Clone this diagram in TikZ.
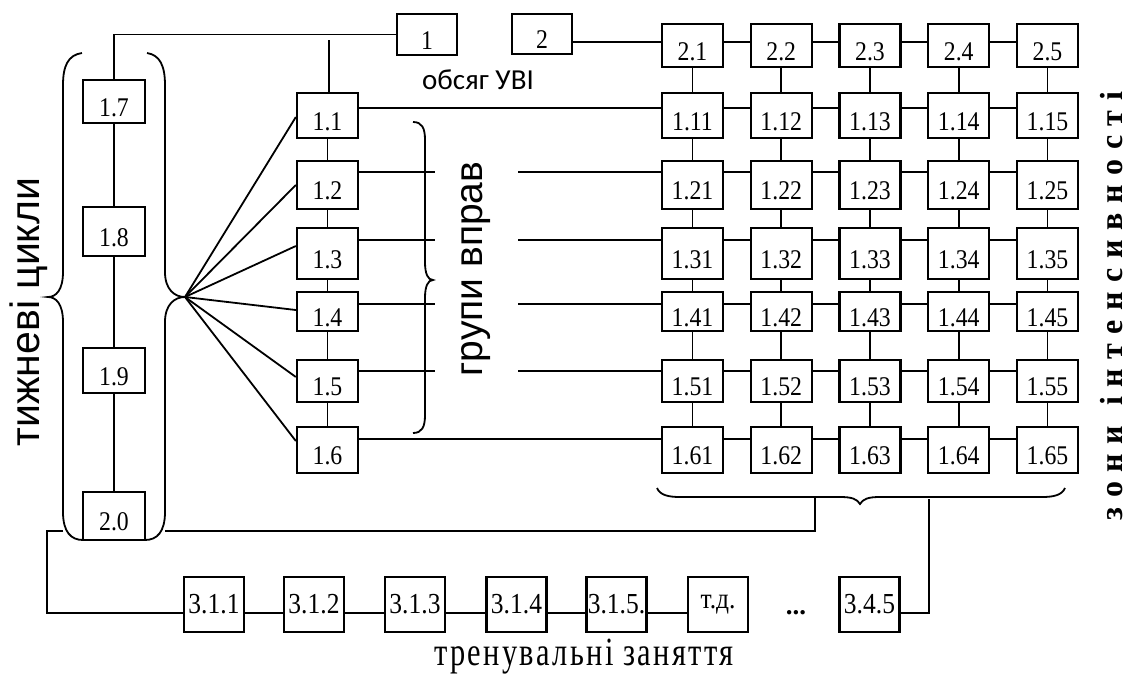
\documentclass[tikz,border=0pt]{standalone}
\usepackage{fontspec}
\setmainfont{Liberation Serif}
\newfontfamily\sansf{Liberation Sans}
\newfontfamily\calf{Carlito}
\newfontfamily\boxf[FakeStretch=0.88]{Liberation Serif}
\newfontfamily\zonef[LetterSpace=30]{Liberation Serif}
\newfontfamily\trainf[LetterSpace=6,FakeStretch=0.76]{Liberation Serif}
\begin{document}
\begin{tikzpicture}[x=1pt,y=-1pt,
  box/.style={draw, line width=2.3pt, inner sep=0pt, minimum width=61pt,
    font=\boxf\fontsize{27}{27}\selectfont, text height=29pt, text depth=0pt},
  sbox/.style={draw, line width=2.3pt, inner sep=0pt, minimum width=60pt,
    minimum height=55pt, font=\boxf\fontsize{29}{29}\selectfont},
  ln/.style={line width=1.8pt}]
\fill[white] (0,0) rectangle (1128,673);
\useasboundingbox (0,0) rectangle (1128,673);

% top boxes
\node[box, minimum width=60pt, minimum height=41pt] (b1) at (427,34.5) {1};
\node[box, minimum width=60pt, minimum height=40pt] (b2) at (542,34) {2};
\node[font=\calf\fontsize{29}{29}\selectfont] (tv) at (478,80) {обсяг УВІ};

% left column
\node[box, minimum width=62pt, minimum height=43pt] (b17) at (114,101.5) {1.7};
\node[box, minimum width=62pt, minimum height=49pt] (b18) at (114,231.5) {1.8};
\node[box, minimum width=62pt, minimum height=45pt] (b19) at (114,370.5) {1.9};
\node[box, minimum width=62pt, minimum height=48pt] (b20) at (114,516) {2.0};
\draw[ln] (b17.south) -- (b18.north);
\draw[ln] (b18.south) -- (b19.north);
\draw[ln] (b19.south) -- (b20.north);

% grid and middle column
\foreach \r/\t/\b/\cy in {0/24/67/42,1/93/138/108,2/161/209/172,3/228/279/240,4/292/331/304,5/360/402/371,6/427/473/439}{
  \foreach \c in {1,...,5}{
    \pgfmathsetmacro\xc{692.5+88.75*(\c-1)}
    \node[box, minimum height={\b-\t}] (g\r\c) at (\xc,{(\t+\b)/2}) {\ifnum\r=0 2.\c\else 1.\r\c\fi};
  }
  \foreach \c [evaluate=\c as \d using int(\c+1)] in {1,...,4}
    \draw[ln] (g\r\c.east |- 0,\cy) -- (g\r\d.west |- 0,\cy);
  \ifnum\r>0
    \node[box, minimum height={\b-\t}] (m\r) at (327.5,{(\t+\b)/2}) {1.\r};
  \fi
}
\foreach \r [evaluate=\r as \s using int(\r+1)] in {0,...,5}
  \foreach \c in {1,...,5}
    \draw[ln] (g\r\c.south) -- (g\s\c.north);
\foreach \r [evaluate=\r as \s using int(\r+1)] in {1,...,5}
  \draw[ln] (m\r.south) -- (m\s.north);

% middle to grid
\draw[ln] (m1.east |- 0,108) -- (g11.west |- 0,108);
\draw[ln] (m6.east |- 0,439) -- (g61.west |- 0,439);
\foreach \r/\cy in {2/172,3/240,4/304,5/371}{
  \coordinate (ea\r) at (435,\cy);
  \coordinate (eb\r) at (518,\cy);
  \draw[ln] (m\r.east |- 0,\cy) -- (ea\r);
  \draw[ln] (eb\r) -- (g\r1.west |- 0,\cy);
}

% top connectors
\draw[ln] (b1.west) -| (b17.north);
\coordinate (v1) at (329,40);
\draw[ln] (v1) -- (v1 |- m1.north);
\draw[ln] (b2.east |- 0,42) -- (g01.west |- 0,42);

% fan
\coordinate (tip) at (185,297);
\foreach \r/\yy in {1/117,2/185,3/246,4/310,5/377,6/441}
  \draw[ln] (tip) -- (m\r.west |- 0,\yy);

% left braces
\draw[ln] (82,53) .. controls (68,55) and (63,66) .. (63,85) -- (63,272)
  .. controls (63,290) and (56,297) .. (48,297)
  .. controls (56,297) and (63,304) .. (63,322) -- (63,512)
  .. controls (63,532) and (71,540) .. (83,540);
\draw[ln] (147,53) .. controls (160,55) and (165,66) .. (165,85) -- (165,272)
  .. controls (165,290) and (175,297) .. (185,297)
  .. controls (175,297) and (165,304) .. (165,322) -- (165,512)
  .. controls (165,532) and (157,540) .. (145,540);

% middle brace
\draw[ln] (413,122) .. controls (422,122) and (425,128) .. (425,140) -- (425,262)
  .. controls (425,274) and (428,280) .. (433,280)
  .. controls (428,280) and (425,286) .. (425,298) -- (425,415)
  .. controls (425,427) and (422,433) .. (413,433);

% grid brace
\draw[ln] (657,488) .. controls (660,495) and (668,497) .. (680,497) -- (840,497)
  .. controls (852,497) and (857,499) .. (860,504)
  .. controls (863,499) and (868,497) .. (880,497) -- (1042,497)
  .. controls (1054,497) and (1062,495) .. (1065,488);

% bottom row
\foreach \i/\x/\t in {1/214/3.1.1,2/314/3.1.2,3/415/3.1.3,4/516.5/3.1.4,5/616.5/3.1.5.,6/718/т.д.,7/869.5/3.4.5}
  \node[sbox] (s\i) at (\x,604.5) {\t};
\foreach \i [evaluate=\i as \j using int(\i+1)] in {1,...,5}
  \draw[ln] (s\i.east |- 0,613) -- (s\j.west |- 0,613);
\node[font=\fontsize{27}{27}\selectfont\bfseries] (dots) at (796,613) {...};

% bottom connectors
\coordinate (gbl) at (815,497);
\coordinate (gbr) at (929,499);
\coordinate (jr) at (165,531);
\coordinate (jl) at (63,531);
\coordinate (jc) at (47,531);
\draw[ln] (gbl) |- (jr);
\draw[ln] (jl) -- (jc) |- (s1.west |- 0,613);
\draw[ln] (gbr) |- (s7.east |- 0,613);

% texts
\node[rotate=90, font=\sansf\fontsize{41}{41}\selectfont] (tc) at (29,312) {тижневі цикли};
\node[rotate=90, font=\sansf\fontsize{39}{39}\selectfont] (gv) at (476,269) {групи вправ};
\node[rotate=90, inner sep=0pt, font={\zonef\bfseries\fontsize{32}{32}\selectfont}] (zi) at (1112,306) {зони\hspace{20pt}інтенсивності};
\node[anchor=base, font=\trainf\fontsize{40}{40}\selectfont] (tz) at (584,665) {тренувальні заняття};
\end{tikzpicture}
\end{document}
